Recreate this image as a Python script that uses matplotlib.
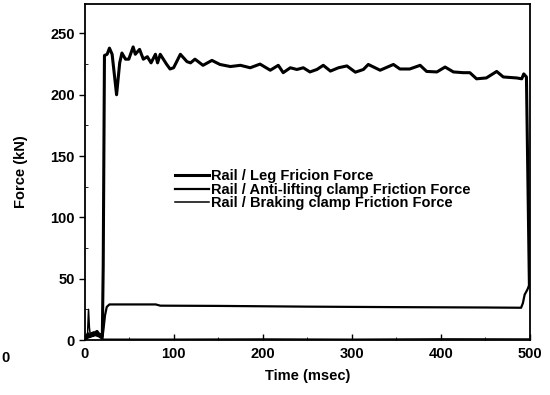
import matplotlib.pyplot as plt
import numpy as np

plt.rcParams['font.family'] = ['Liberation Sans', 'DejaVu Sans']

# Rail / Leg friction force (kN) vs time (msec)
leg_t = [0, 2, 4, 6, 8, 10, 12, 14, 16, 18, 20, 21, 22.4, 25.4, 28, 31, 36, 39.5, 42, 46,
         49.7, 54.6, 57, 61.8, 66, 70.5, 74.7, 79.6, 82, 85, 92, 96, 100, 107.6, 115,
         119, 124, 133, 143, 152, 163.7, 175, 186, 197, 208.5, 217.5, 223, 231, 238.4,
         245.6, 253, 260.8, 268, 276, 285, 294.5, 304, 313, 318.5, 331.8, 346.7, 354,
         365, 376.7, 384, 395.5, 404.7, 414, 425, 432.5, 440, 451, 462.6, 470, 485,
         490.7, 493, 496, 499.3]
leg_f = [0, 2, 5, 3, 4, 6, 5, 7, 5, 4, 3, 60, 232, 233, 238, 233, 200, 226, 234, 229,
         229, 239, 233, 237, 229, 231, 226, 233, 226, 233, 225, 221, 222, 233, 227,
         226, 229, 224, 228, 224.7, 223, 224, 222, 225, 220, 224, 218, 222, 220.6,
         222, 218.6, 220.6, 224, 219.3, 222, 223.5, 218.4, 220.6, 224.7, 220, 224.7, 221,
         221, 224, 219, 218.6, 222.6, 218.6, 218, 218, 213, 213.7, 219, 214.5, 213.7,
         213, 217, 214.5, 45]

# Rail / Anti-lifting clamp friction force
anti_t = [0, 4, 8, 12, 16, 20, 21.5, 23, 25, 28, 40, 80, 85, 150, 250, 350, 450, 490, 492,
          494, 497, 499.3]
anti_f = [0, 2, 3, 4, 3, 1, 10, 20, 27, 29, 29, 29, 28, 27.8, 27.2, 26.8, 26.5, 26.3, 30,
          37, 41, 45]

# Rail / Braking clamp friction force
brake_t = [0, 2, 3.5, 4.5, 5.5, 6.5, 8, 10, 12, 14, 16, 18, 20, 22, 100, 200, 300, 400,
           500]
brake_f = [0, 2, 6, 25, 10, 4, 6, 3, 7, 4, 5, 3, 1, 0.6, 0.6, 0.8, 0.6, 0.9, 0.8]

labels = ['Rail / Leg Fricion Force',
          'Rail / Anti-lifting clamp Friction Force',
          'Rail / Braking clamp Friction Force']

fig = plt.figure(figsize=(5.5, 3.95), dpi=100)
ax = fig.add_axes([84.5 / 550, 1 - 340 / 395, (530 - 84.5) / 550, (340 - 4) / 395])

ax.plot(leg_t, leg_f, color='black', lw=2.2, label=labels[0])
ax.plot(anti_t, anti_f, color='black', lw=1.6, label=labels[1])
ax.plot(brake_t, brake_f, color='black', lw=1.1, label=labels[2])

ax.set_xlim(0, 500)
ax.set_ylim(0, 274)
ax.set_xticks([0, 100, 200, 300, 400, 500])
ax.set_xticks(np.arange(50, 500, 100), minor=True)
ax.set_yticks([0, 50, 100, 150, 200, 250])
ax.set_yticks(np.arange(25, 275, 50), minor=True)
ax.tick_params(axis='both', which='major', labelsize=10.5, width=1.0, length=4, pad=3)
ax.tick_params(axis='x', which='both', direction='in')
ax.tick_params(axis='x', which='major', pad=5)
ax.tick_params(axis='y', which='major', direction='out')
ax.tick_params(axis='y', which='minor', direction='in', length=2.5)
ax.tick_params(axis='x', which='minor', length=2.5)
for lab in ax.get_xticklabels() + ax.get_yticklabels():
    lab.set_fontweight('bold')
for s in ax.spines.values():
    s.set_linewidth(1.3)

ax.set_xlabel('Time (msec)', fontsize=10.5, fontweight='bold', labelpad=6)
ax.set_ylabel('Force (kN)', fontsize=10.5, fontweight='bold', labelpad=16)

leg = ax.legend(loc='upper left', bbox_to_anchor=(0.19, 0.525), frameon=False,
                fontsize=10.5, handlelength=2.3, handletextpad=0.2, labelspacing=-0.05,
                borderaxespad=0)
for t in leg.get_texts():
    t.set_fontweight('bold')

fig.text(1 / 550, 1 - 358 / 395, '0', fontsize=10.5, fontweight='bold', va='center')

fig.savefig('out.png', dpi=100)
